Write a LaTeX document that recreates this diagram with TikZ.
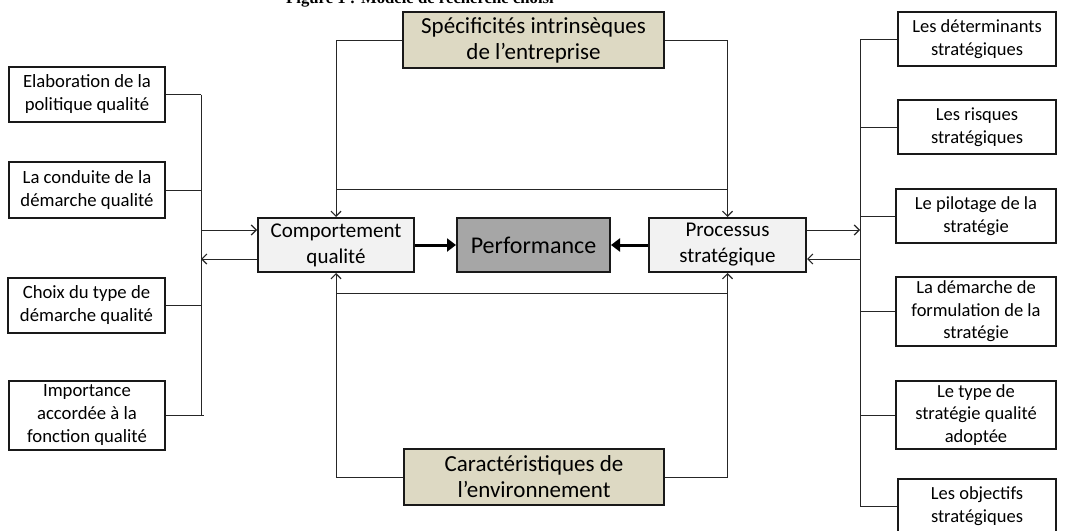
\documentclass[tikz,border=0pt]{standalone}
\usepackage{fontspec}
\setmainfont{Carlito}
\newfontfamily\titlefont{Liberation Serif}
\usetikzlibrary{arrows.meta}
\definecolor{beige}{HTML}{DDD9C3}
\definecolor{perfgray}{HTML}{A6A6A6}
\definecolor{lightbox}{HTML}{F2F2F2}
\definecolor{linecol}{HTML}{262626}
\begin{document}
\begin{tikzpicture}[x=1pt,y=-1pt,
  box/.style={draw=black!90,line width=1.5pt,fill=white,align=center,inner sep=0pt},
  leftfont/.style={font=\fontsize{18.7}{23}\selectfont},
  rightfont/.style={font=\fontsize{18.5}{22.5}\selectfont},
  mainbox/.style={draw=black!90,line width=2pt,align=center,inner sep=0pt,
    minimum height=54pt,font=\fontsize{21}{26}\selectfont},
  conn/.style={draw=linecol,line width=1pt},
  arr/.style={conn,-{Straight Barb[length=5pt,width=10pt,line width=1.2pt]}},
  bigarr/.style={draw=black,line width=3pt,-{Triangle[length=9pt,width=13pt]}}]
\useasboundingbox (0,0) rectangle (1075,530);
\clip (0,0) rectangle (1075,530);

% title (cut at the top in the reference)
\node[font=\titlefont\bfseries\fontsize{16.7}{20}\selectfont,anchor=base,inner sep=0pt] (title) at (420,4) {Figure 1 : Modèle de recherche choisi};

% central boxes
\node[mainbox,fill=lightbox,minimum width=156pt] (comp) at (336,245) {Comportement\\qualité};
\node[mainbox,fill=perfgray,minimum width=153pt,font=\fontsize{24}{28}\selectfont] (perf) at (533.5,245) {Performance};
\node[mainbox,fill=lightbox,minimum width=157pt] (proc) at (727.5,245) {Processus\\stratégique};
\node[mainbox,fill=beige,minimum width=261pt,minimum height=56pt,font=\fontsize{23}{26}\selectfont] (top) at (533.5,40) {Spécificités intrinsèques\\de l’entreprise};
\node[mainbox,fill=beige,minimum width=260pt,minimum height=56pt,font=\fontsize{23}{26}\selectfont] (bot) at (534,477) {Caractéristiques de\\l’environnement};

% left boxes
\node[box,leftfont,minimum width=156pt,minimum height=55pt] (L1) at (87,94.5) {Elaboration de la\\politique qualité};
\node[box,leftfont,minimum width=156pt,minimum height=56pt] (L2) at (87,190) {La conduite de la\\démarche qualité};
\node[box,leftfont,minimum width=157pt,minimum height=55pt] (L3) at (86.5,305.5) {Choix du type de\\démarche qualité};
\node[box,leftfont,minimum width=156pt,minimum height=69pt] (L4) at (87,415.5) {Importance\\accordée à la\\fonction qualité};

% right boxes
\node[box,rightfont,minimum width=158pt,minimum height=54pt] (R1) at (977,39) {Les déterminants\\stratégiques};
\node[box,rightfont,minimum width=158pt,minimum height=54pt] (R2) at (977,127) {Les risques\\stratégiques};
\node[box,rightfont,minimum width=160pt,minimum height=54pt] (R3) at (976,216) {Le pilotage de la\\stratégie};
\node[box,rightfont,minimum width=160pt,minimum height=69pt] (R4) at (976,311.5) {La démarche de\\formulation de la\\stratégie};
\node[box,rightfont,minimum width=160pt,minimum height=68pt] (R5) at (976,415) {Le type de\\stratégie qualité\\adoptée};
\node[box,rightfont,minimum width=158pt,minimum height=54pt] (R6) at (977,506) {Les objectifs\\stratégiques};

% thick arrows to performance
\draw[bigarr] (comp.east) -- (perf.west);
\draw[bigarr] (proc.west) -- (perf.east);

% top and bottom loops
\coordinate (tl) at (336,189);
\coordinate (tr) at (728,189);
\coordinate (bl) at (336,293);
\coordinate (br) at (728,293);
\draw[arr] (top.west) -| (comp.north);
\draw[arr] (top.east) -| (proc.north);
\draw[conn] (tl) -- (tr);
\draw[arr] (bot.west) -| (comp.south);
\draw[arr] (bot.east) -| (proc.south);
\draw[conn] (bl) -- (br);

% left bracket
\coordinate (lb1) at (201,94.5);
\coordinate (lb2) at (201,190);
\coordinate (lb3) at (201,305.5);
\coordinate (lb4) at (204,415.5);
\coordinate (lbt) at (201,94.5);
\coordinate (lbb) at (201,415.5);
\draw[conn] (L1.east) -- (lb1);
\draw[conn] (L2.east) -- (lb2);
\draw[conn] (L3.east) -- (lb3);
\draw[conn] (L4.east) -- (lb4);
\draw[conn] (lbt) -- (lbb);
\coordinate (la1) at (201,230);
\coordinate (la2) at (201,259);
\draw[arr] (la1) -- (comp.west |- la1);
\draw[arr] (comp.west |- la2) -- (la2);

% right bracket
\coordinate (rb1) at (860,39);
\coordinate (rb2) at (860,127);
\coordinate (rb3) at (860,216);
\coordinate (rb4) at (860,311.5);
\coordinate (rb5) at (860,415);
\coordinate (rb6) at (860,506);
\draw[conn] (R1.west) -- (rb1);
\draw[conn] (R2.west) -- (rb2);
\draw[conn] (R3.west) -- (rb3);
\draw[conn] (R4.west) -- (rb4);
\draw[conn] (R5.west) -- (rb5);
\draw[conn] (R6.west) -- (rb6);
\draw[conn] (rb1) -- (rb6);
\coordinate (ra1) at (860,230);
\coordinate (ra2) at (860,259);
\draw[arr] (proc.east |- ra1) -- (ra1);
\draw[arr] (ra2) -- (proc.east |- ra2);
\end{tikzpicture}
\end{document}
